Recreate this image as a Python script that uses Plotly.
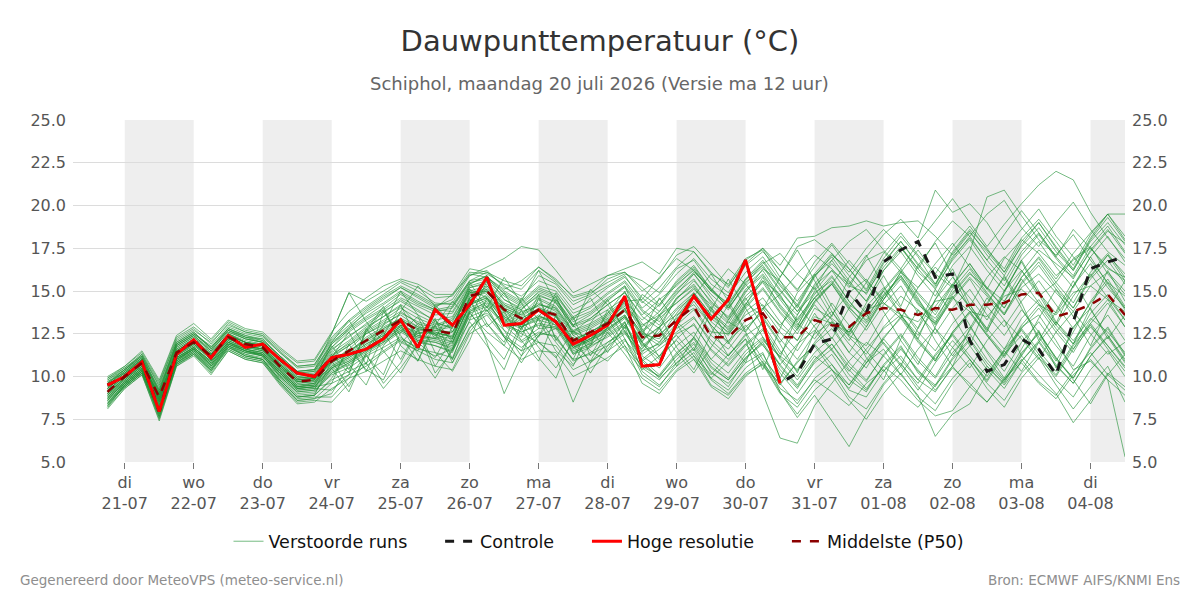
import plotly.graph_objects as go
import pandas as pd

# ---------------- data ----------------
start_time = "2026-07-20 18:00"
n_steps = 60  # 6-hourly

tick_dates = ["2026-07-21", "2026-07-22", "2026-07-23", "2026-07-24", "2026-07-25",
              "2026-07-26", "2026-07-27", "2026-07-28", "2026-07-29", "2026-07-30",
              "2026-07-31", "2026-08-01", "2026-08-02", "2026-08-03", "2026-08-04"]
tick_text = ["di<br>21-07", "wo<br>22-07", "do<br>23-07", "vr<br>24-07", "za<br>25-07",
             "zo<br>26-07", "ma<br>27-07", "di<br>28-07", "wo<br>29-07", "do<br>30-07",
             "vr<br>31-07", "za<br>01-08", "zo<br>02-08", "ma<br>03-08", "di<br>04-08"]
shaded_days = ["2026-07-21", "2026-07-23", "2026-07-25", "2026-07-27", "2026-07-29",
               "2026-07-31", "2026-08-02", "2026-08-04"]

hres = [9.5, 10.0, 10.85, 7.95, 11.3, 12.15, 11.1, 12.4, 11.7, 11.9, 11.0, 10.2, 10.0, 11.1, 11.3,
        11.6, 12.2, 13.3, 11.7, 13.9, 13.0, 14.2, 15.8, 13.0, 13.1, 13.9, 13.2, 11.9, 12.4, 13.0,
        14.7, 10.6, 10.7, 13.1, 14.7, 13.35, 14.5, 16.8, 13.2, 9.6]

control = [9.5, 10.0, 10.85, 7.95, 11.3, 12.15, 11.1, 12.4, 11.7, 11.9, 11.0, 10.2, 10.0, 11.1, 11.3,
           11.6, 12.2, 13.3, 11.7, 13.9, 13.0, 14.2, 15.8, 13.0, 13.1, 13.9, 13.2, 11.9, 12.4, 13.0,
           14.7, 10.6, 10.7, 13.1, 14.7, 13.35, 14.5, 16.8, 13.2, 9.6,
           10.2, 11.9, 12.2, 15.0, 13.7, 16.7, 17.4, 17.9, 15.8, 16.0,
           12.1, 10.3, 10.7, 12.2, 11.6, 10.1, 13.2, 16.3, 16.7, 17.0]

median = [9.1, 10.0, 10.8, 8.8, 11.4, 12.0, 11.2, 12.3, 11.9, 11.7, 10.6, 9.7, 9.8, 10.9, 11.5,
          12.1, 12.7, 13.3, 12.7, 12.7, 12.5, 14.7, 15.0, 13.9, 13.4, 13.9, 13.6, 12.1, 12.6, 13.1,
          13.9, 12.3, 12.4, 13.3, 14.1, 12.3, 12.3, 13.3, 13.7, 12.3, 12.3, 13.3, 13.0, 12.9, 13.7,
          14.0, 13.9, 13.6, 14.0, 13.9, 14.2, 14.2, 14.3, 14.8, 14.9, 13.5, 13.8, 14.2, 14.8, 13.6]

ens = [
 [9.3,10.1,10.9,8.5,11.6,12.2,11.0,12.5,12.0,11.8,10.4,9.4,9.6, 11.2,12.0,12.8,13.5,14.1,13.0,12.4,13.2,15.1,14.6,13.2,12.8,14.5,14.0,12.6,13.4,14.2,14.9, 13.5,12.8,14.6,15.3,13.9,12.7,14.2,15.8,14.1,12.9,15.0,16.2,15.4,16.8,17.3,16.1,15.2,16.6,17.8,16.4,15.1,16.9,18.0,17.2,15.9,16.8,17.5,16.3,15.8],
 [8.6,9.7,10.5,8.1,11.0,11.7,10.8,12.0,11.5,11.2,10.0,9.0,9.1, 10.2,10.8,11.4,12.0,12.7,12.1,11.8,11.4,13.8,14.4,13.0,12.1,12.8,12.9,11.4,11.8,12.3,13.0, 11.4,12.9,10.6,12.3,14.1,12.0,10.8,13.4,11.9,10.2,12.6,14.3,13.0,11.1,9.8,12.2,13.9,12.1,10.6,12.8,14.6,13.3,11.2,12.7,10.5,12.9,14.0,12.2,13.6],
 [9.8,10.4,11.3,9.4,12.0,12.6,11.6,12.8,12.4,12.1,11.2,10.3,10.4, 12.5,14.9,13.2,12.0,13.8,15.3,14.1,12.6,14.0,15.9,13.1,14.4,16.2,14.3,12.9,15.1,14.2,12.8, 14.8,14.1,15.4,16.2,15.0,14.3,15.7,16.5,15.1,13.8,14.9,15.6,14.2,13.5,14.8,15.9,14.4,13.1,14.6,15.8,14.7,13.6,15.2,16.0,14.9,13.8,15.3,16.1,15.0],
 [8.2,9.5,10.3,7.6,10.7,11.4,10.3,11.7,11.3,11.0,9.7,8.6,8.7, 9.6,10.1,10.6,11.4,12.1,11.5,11.0,10.8,12.9,13.6,12.3,11.5,12.0,11.8,10.4,10.9,11.5,12.2, 10.1,9.4,10.8,11.6,9.9,9.2,10.5,11.3,9.6,8.4,9.9,10.7,9.2,8.8,10.3,11.2,9.8,9.1,10.6,11.8,10.4,9.3,10.9,12.1,10.7,9.6,11.2,12.4,10.9],
 [9.0,9.9,10.7,9.0,11.3,11.9,11.3,12.2,11.8,11.6,10.7,9.9,10.0, 11.0,11.4,12.3,12.9,13.4,12.5,12.9,12.2,14.4,15.3,14.2,13.8,14.1,13.2,11.8,12.2,13.3,14.2, 13.0,13.6,14.3,15.1,14.2,13.2,12.6,14.0,14.8,13.1,12.2,13.6,14.9,15.7,14.3,13.4,15.2,16.4,15.3,14.1,15.8,17.0,16.2,14.7,15.5,16.9,17.6,16.0,14.8],
 [9.5,10.3,11.1,8.3,11.8,12.4,11.5,12.6,12.2,12.0,10.9,10.0,10.1, 11.5,12.4,13.0,13.7,14.5,13.9,13.2,12.8,15.4,15.9,14.5,13.9,15.0,14.6,13.0,13.6,14.4,15.3, 12.7,13.5,14.8,16.0,14.6,13.3,14.9,16.3,15.6,14.0,15.8,17.1,16.3,15.1,16.9,18.2,17.0,15.4,17.3,18.6,17.5,16.1,17.9,19.0,17.6,16.3,18.1,19.5,18.0],
 [8.4,9.6,10.4,7.8,10.9,11.6,10.6,11.9,11.4,11.3,10.1,9.2,9.3, 9.2,10.1,12.8,11.5,10.2,11.9,13.4,11.0,13.7,12.6,11.8,13.9,12.0,11.1,12.7,11.5,10.9,12.1, 11.0,11.8,12.6,13.4,12.1,11.2,12.4,13.1,11.5,10.3,11.9,12.8,11.4,10.5,12.2,13.5,12.1,10.9,12.6,13.8,12.5,11.3,13.0,14.2,12.8,11.6,13.3,14.5,12.9],
 [9.7,10.2,11.0,9.2,11.9,12.5,11.8,12.9,12.5,12.3,11.4,10.5,10.6, 12.1,13.0,13.9,14.6,15.2,14.7,14.1,14.5,16.0,15.8,15.1,15.6,16.4,15.7,14.6,14.9,15.5,16.0, 15.6,14.9,16.3,16.8,15.4,14.7,16.1,17.0,15.6,14.4,15.9,16.8,15.3,14.9,16.4,17.6,16.1,15.2,16.8,18.0,16.5,15.3,17.1,18.3,16.9,15.7,17.4,18.6,17.2],
 [8.9,9.8,10.6,8.7,11.2,11.8,11.1,12.1,11.7,11.5,10.5,9.6,9.7, 10.6,11.1,11.8,12.4,13.0,12.6,12.5,12.0,14.2,14.8,13.6,13.1,13.5,13.3,11.9,12.4,12.8,13.6, 12.0,10.7,13.3,14.8,12.9,11.2,12.5,10.4,12.8,14.9,16.0,14.1,12.4,13.7,11.9,10.6,12.8,15.1,13.6,11.8,14.2,15.9,14.3,12.1,13.8,15.6,13.9,12.4,11.0],
 [9.2,10.0,10.8,8.9,11.5,12.1,11.2,12.4,12.0,11.7,10.6,9.8,9.9, 10.9,11.6,12.5,13.1,13.6,12.9,12.7,12.9,14.9,15.1,14.0,13.6,14.2,13.9,12.5,12.9,13.5,14.3, 12.6,12.0,13.1,14.4,13.0,12.0,13.8,14.6,13.2,12.1,14.0,13.4,12.6,14.1,15.2,14.0,12.8,14.5,15.8,14.6,13.3,15.0,16.2,14.9,13.7,15.3,16.6,15.2,14.0],
 [8.5,9.4,10.2,7.7,10.8,11.5,10.5,11.8,11.3,11.1,9.9,8.9,9.0, 10.5,9.1,11.4,12.6,11.0,12.8,10.6,12.2,14.5,12.9,13.8,12.1,10.9,13.6,11.3,12.0,13.4,11.8, 10.6,10.0,11.2,12.0,10.5,9.8,11.1,11.9,10.2,9.0,10.4,11.3,9.8,9.1,10.7,11.8,10.2,9.4,11.0,12.1,10.6,9.6,11.3,12.6,11.0,9.9,11.6,12.8,11.2],
 [9.9,10.5,11.2,9.5,12.2,12.8,11.9,13.1,12.6,12.4,11.5,10.6,10.7, 12.3,13.3,14.1,14.8,15.5,15.0,14.3,14.2,15.6,16.1,15.3,14.5,15.9,15.4,14.2,14.7,15.3,15.9, 14.4,13.6,14.9,15.7,14.3,13.5,15.0,15.9,14.5,13.2,14.6,15.4,14.0,13.1,14.5,15.7,14.2,13.4,14.9,16.1,14.8,13.7,15.4,16.5,15.1,14.0,15.7,16.8,15.4],
 [8.1,9.3,10.1,7.5,10.6,11.2,10.1,11.5,11.0,10.8,9.5,8.4,8.5, 9.3,9.9,10.3,10.9,11.5,11.0,10.6,10.4,12.5,13.1,11.8,11.0,11.5,11.4,10.0,10.5,11.1,11.8, 9.6,9.0,10.3,11.0,9.4,8.7,10.0,10.8,9.1,7.8,9.2,10.1,8.6,7.5,9.0,10.2,8.8,8.0,9.6,10.8,9.3,8.2,9.9,11.1,9.5,8.1,9.4,10.6,8.5],
 [9.4,10.2,11.0,8.6,11.7,12.3,11.4,12.5,12.1,11.9,10.8,9.9,10.0, 11.3,11.9,12.7,13.3,14.0,13.4,13.0,13.4,15.2,15.4,14.3,13.9,14.8,14.3,12.9,13.3,13.9,14.6, 13.1,12.3,13.7,14.9,13.6,12.5,14.1,15.2,13.8,12.7,14.4,15.5,14.1,12.9,14.7,15.9,14.5,13.2,15.1,16.3,14.9,13.6,15.5,16.7,15.3,14.0,15.9,17.1,15.6],
 [8.7,9.6,10.4,8.4,11.1,11.7,10.9,12.0,11.6,11.4,10.3,9.4,9.5, 11.1,12.6,10.7,13.8,12.4,10.9,13.0,14.4,13.3,15.6,14.0,12.7,14.8,12.1,13.5,11.2,12.9,14.0, 11.7,12.5,13.2,12.3,11.0,12.1,13.0,11.8,10.7,11.9,12.7,11.5,10.3,11.6,12.8,13.6,12.2,11.0,12.5,13.7,12.4,11.1,12.8,14.0,12.6,11.4,13.1,14.3,12.9],
 [9.6,10.4,11.2,9.1,11.9,12.5,11.7,12.7,12.3,12.2,11.1,10.2,10.3, 11.9,12.7,13.4,14.0,14.8,14.2,13.8,14.0,15.5,15.7,14.9,14.3,15.2,14.8,13.5,14.0,14.8,15.5, 14.0,14.8,16.0,16.9,15.7,14.9,16.5,17.3,16.2,15.0,16.7,17.8,16.6,15.5,17.2,18.4,17.1,16.0,17.6,18.8,17.4,16.3,18.1,19.2,17.9,16.5,18.3,19.5,18.2],
 [8.3,9.5,10.3,7.9,10.8,11.5,10.4,11.8,11.2,11.0,9.8,8.8,8.9, 9.8,10.3,10.8,11.5,12.2,11.7,11.2,11.6,13.5,13.9,12.4,11.7,12.5,12.4,10.9,11.4,12.0,12.6, 10.9,11.6,12.4,11.2,10.1,11.3,12.2,10.8,9.5,10.9,11.8,10.4,9.3,10.8,12.0,10.7,9.6,11.2,12.4,11.0,9.8,11.5,12.7,11.3,10.1,11.8,13.0,11.6,10.3],
 [9.1,10.0,10.9,8.8,11.4,12.0,11.2,12.3,11.9,11.6,10.6,9.7,9.8, 10.8,11.3,12.0,12.6,13.2,12.8,12.6,12.3,14.6,14.9,13.8,13.3,13.8,13.5,12.0,12.5,13.0,13.8, 12.4,14.6,13.1,11.5,13.9,15.7,14.0,12.3,11.1,13.6,15.2,13.5,15.8,17.1,15.3,13.6,12.2,14.5,16.3,14.2,12.6,14.9,16.8,15.0,13.2,11.9,14.1,16.2,14.4],
 [8.8,9.7,10.5,8.2,11.0,11.6,10.7,11.9,11.5,11.3,10.2,9.3,9.4, 9.6,11.9,10.3,12.4,14.2,12.0,11.1,12.9,15.0,13.1,12.0,14.6,13.3,11.5,10.6,12.8,11.4,13.0, 11.2,10.5,11.8,12.6,11.0,10.2,11.5,12.3,10.6,9.4,10.8,11.6,10.1,9.2,10.6,11.7,10.3,9.5,11.1,12.2,10.8,9.7,11.4,12.5,11.1,9.9,11.7,12.9,11.3],
 [10.0,10.6,11.4,9.7,12.3,12.9,12.1,13.2,12.7,12.5,11.6,10.8,10.9, 12.5,14.9,14.4,15.0,15.6,15.2,14.6,14.7,16.1,16.0,15.4,15.1,16.2,15.5,14.4,14.8,15.7,16.1, 15.2,14.2,15.6,16.5,15.1,14.0,15.3,16.2,14.7,13.3,14.8,15.9,14.4,13.2,14.7,15.8,14.3,13.0,14.5,15.7,14.1,12.9,14.4,15.6,14.2,12.8,14.3,15.5,14.0],
 [9.3,10.1,10.8,8.7,11.5,12.1,11.3,12.4,12.0,11.8,10.7,9.8,9.9, 11.1,11.8,12.6,13.2,13.8,13.1,12.8,13.0,14.8,15.2,14.1,13.7,14.3,13.8,12.4,12.8,13.4,14.1, 12.9,13.8,15.0,16.1,15.2,14.0,15.4,16.6,17.2,16.0,15.1,16.8,17.9,18.6,17.4,16.3,17.8,19.1,20.4,19.0,17.6,18.9,20.1,21.2,22.0,21.5,19.6,18.1,16.9],
 [8.6,9.5,10.3,8.0,10.9,11.6,10.6,11.8,11.4,11.2,10.0,9.1,9.2, 10.1,10.5,11.2,11.7,12.3,11.6,11.4,11.1,13.3,13.7,12.7,12.0,12.6,12.3,11.0,11.3,11.8,12.5, 11.3,12.0,13.5,14.8,13.4,12.6,14.2,15.6,14.8,16.0,17.1,16.3,15.2,17.0,18.3,19.2,18.1,20.9,19.6,20.1,19.0,17.4,18.6,19.8,18.2,17.0,15.8,17.1,16.0],
 [9.0,9.8,10.6,8.6,11.2,11.8,11.0,12.1,11.7,11.5,10.4,9.5,9.6, 10.7,11.2,11.9,12.5,13.1,12.4,12.2,12.6,14.3,14.7,13.5,13.0,13.6,13.0,11.7,12.1,12.7,13.5, 12.0,11.2,12.5,13.0,11.6,10.7,11.9,12.8,11.0,9.8,11.2,10.4,9.5,10.8,11.6,10.1,8.9,6.5,7.8,8.4,10.2,11.5,10.3,12.0,13.2,12.1,13.4,12.6,11.4],
 [8.4,9.4,10.2,7.8,10.8,11.4,10.4,11.7,11.2,11.0,9.8,8.8,8.9, 10.9,9.4,11.2,10.1,12.6,13.5,11.4,10.3,12.1,14.6,12.7,11.2,13.5,14.7,12.4,11.8,13.9,12.2, 10.5,9.8,11.0,11.9,10.2,9.6,10.8,11.4,9.1,7.6,8.9,7.4,5.9,7.8,9.5,10.6,9.2,10.8,12.1,11.0,9.7,11.3,12.4,11.1,10.0,11.6,12.9,11.8,10.5],
 [8.9,9.7,10.5,8.5,11.1,11.7,10.8,12.0,11.6,11.3,10.2,9.3,9.4, 10.5,10.9,11.5,12.1,12.8,12.2,12.0,11.7,13.9,14.3,13.1,12.6,13.0,12.8,11.3,11.7,12.4,13.1, 11.5,11.9,12.8,13.5,11.9,11.0,12.2,9.0,6.4,6.1,8.3,9.6,10.9,12.0,11.2,10.1,11.6,12.8,11.7,10.5,12.1,13.3,12.2,11.0,12.6,13.8,12.5,11.3,12.0],
 [9.2,10.0,10.7,8.9,11.4,12.0,11.3,12.3,11.8,11.6,10.5,9.6,9.7, 10.9,11.5,12.2,12.8,13.4,12.9,12.4,12.2,14.5,15.0,13.9,13.4,14.0,13.7,12.2,12.6,13.2,13.9, 12.5,11.8,13.0,13.9,12.4,11.6,12.9,13.7,12.2,11.0,12.5,13.2,11.9,10.8,12.3,13.4,12.0,10.9,12.6,13.8,12.4,11.2,12.9,13.6,12.1,10.4,10.9,9.8,5.3],
 [9.6,10.3,11.1,9.0,11.8,12.4,11.6,12.7,12.3,12.0,11.0,10.1,10.2, 11.7,12.6,13.3,13.9,14.6,14.1,13.6,13.7,15.3,15.6,14.7,14.1,14.9,14.5,13.2,13.7,14.5,15.2, 13.8,13.0,14.5,15.6,14.4,13.4,15.1,16.0,14.6,13.6,15.4,16.6,15.5,14.4,16.2,17.5,16.3,15.1,16.9,18.2,19.5,20.3,18.7,17.6,19.0,20.2,18.6,17.3,16.5],
 [8.8,9.6,10.4,8.3,11.0,11.6,10.8,12.0,11.5,11.3,10.2,9.3,9.4, 10.4,10.9,11.6,12.2,12.8,12.3,12.1,11.8,14.0,14.5,13.3,12.9,13.3,13.0,11.6,12.1,12.6,13.4, 11.8,12.6,13.9,14.7,13.2,12.4,14.0,15.1,13.7,12.5,14.3,15.4,16.8,15.6,14.5,16.1,17.4,16.0,15.2,17.3,20.5,20.9,19.4,18.0,17.1,18.3,16.8,15.5,14.7],
 [8.5,9.5,10.3,7.7,10.7,11.3,10.4,11.6,11.1,10.9,9.7,8.7,8.8, 8.8,9.9,11.3,9.6,10.8,12.7,10.2,11.5,13.2,11.8,10.4,12.9,11.1,9.9,12.3,10.8,11.6,12.9, 10.3,9.5,10.6,11.4,9.8,9.0,10.2,10.9,9.3,8.6,9.8,9.1,8.3,9.6,10.4,9.0,8.2,9.5,10.6,9.4,8.5,9.9,10.8,9.6,8.7,10.1,11.0,9.8,8.9],
 [9.4,10.2,10.9,8.8,11.6,12.2,11.3,12.5,12.0,11.9,10.8,9.9,10.0, 11.4,12.1,12.9,13.5,14.2,13.6,13.1,12.9,15.0,15.3,14.2,13.6,14.6,14.1,12.7,13.1,13.7,14.5, 12.8,11.1,12.9,14.7,16.0,14.4,12.7,13.9,15.8,17.4,15.6,13.8,12.5,14.3,15.9,14.1,16.5,17.8,15.9,14.0,12.8,15.0,16.7,14.8,13.1,15.3,17.0,15.4,13.9],
 [9.5,10.3,11.0,9.1,11.8,12.4,11.5,12.7,12.2,12.0,11.1,10.2,10.3, 11.7,12.8,13.8,14.5,15.2,14.6,14.0,14.8,15.9,16.4,16.9,17.6,17.4,16.2,14.9,15.4,15.9,16.1, 15.0,15.7,17.1,17.6,16.5,15.3,16.6,17.5,16.2,15.1,16.4,17.7,16.3,15.0,16.7,17.9,16.6,15.4,17.0,18.1,16.8,15.6,17.3,18.4,17.0,15.9,17.6,18.8,17.3],
 [9.0,9.9,10.6,8.5,11.2,11.9,11.0,12.2,11.8,11.5,10.4,9.5,9.6, 10.6,11.2,11.9,12.4,13.0,12.5,12.6,12.3,14.6,12.0,9.0,11.2,12.4,12.8,12.6,12.2,13.0,13.6, 12.1,12.9,13.6,14.2,13.0,11.9,13.3,14.0,12.6,11.5,13.0,13.8,12.3,11.3,12.9,14.0,12.6,11.5,13.1,14.2,12.8,11.6,13.4,14.5,13.0,11.9,13.7,14.8,13.3],
 [8.7,9.6,10.4,8.2,11.0,11.6,10.7,11.9,11.5,11.2,10.1,9.2,9.3, 10.2,10.7,11.3,11.9,12.6,12.0,11.8,11.5,13.7,14.1,13.0,12.5,12.0,11.2,8.5,10.8,12.0,12.7, 11.0,10.1,11.4,12.2,10.6,9.8,11.1,12.0,10.4,9.3,10.9,11.9,10.6,9.7,11.3,12.5,11.1,10.0,11.7,12.9,11.5,10.3,12.0,13.2,11.8,10.6,12.4,13.6,12.1],
 [9.3,10.1,10.9,8.9,11.5,12.1,11.4,12.4,12.0,11.8,10.7,9.8,9.9, 11.2,11.8,12.5,13.0,13.7,13.2,12.9,13.3,14.9,15.0,14.0,13.5,14.2,14.0,12.6,13.0,13.6,14.4, 13.3,14.2,15.5,16.4,15.1,14.2,15.6,16.7,15.3,14.1,15.9,17.0,15.6,14.4,16.2,17.3,15.9,14.7,16.5,17.6,16.2,15.0,16.8,17.9,16.4,15.2,17.0,18.2,16.7],
 [8.6,9.5,10.3,8.1,10.9,11.5,10.6,11.8,11.4,11.2,10.0,9.1,9.2, 11.3,10.2,12.7,14.1,11.8,10.9,13.3,12.0,14.2,15.7,13.4,12.3,14.6,12.2,11.0,13.1,14.5,12.6, 11.6,12.8,11.4,10.2,11.7,13.3,14.6,12.9,11.3,12.8,14.2,13.0,11.4,12.9,14.5,16.1,14.6,12.8,11.2,12.7,14.3,15.8,14.0,12.3,10.9,12.6,14.4,15.7,14.1],
 [9.1,9.9,10.7,8.7,11.3,11.9,11.1,12.2,11.8,11.6,10.5,9.7,9.8, 10.8,11.4,12.1,12.8,13.3,12.8,12.5,12.4,14.6,15.1,13.7,13.2,13.9,13.6,12.1,12.6,13.2,14.0, 12.2,12.9,14.0,14.9,13.6,12.8,14.3,13.5,12.0,13.4,14.6,13.3,12.1,13.8,15.0,13.6,12.4,14.1,15.4,14.0,12.7,14.4,15.7,14.3,13.0,14.7,16.0,14.6,13.3],
 [8.9,9.8,10.6,8.4,11.1,11.7,10.9,12.1,11.6,11.4,10.3,9.4,9.5, 10.5,11.0,11.6,12.3,12.9,12.4,12.2,11.9,14.2,14.6,13.4,12.9,13.4,13.2,11.7,12.2,12.8,13.5, 11.9,11.0,12.2,13.1,11.5,10.6,11.8,12.7,11.1,10.0,11.4,12.3,10.8,9.8,11.2,12.4,10.9,9.9,11.4,12.5,11.0,9.8,11.2,10.1,9.0,7.3,8.6,10.2,9.4],
 [9.7,10.4,11.2,9.2,12.0,12.6,11.7,12.8,12.4,12.2,11.2,10.3,10.4, 11.9,12.9,13.7,14.3,15.0,14.4,13.9,14.1,15.6,15.8,15.0,14.4,15.3,15.0,13.7,14.1,14.9,15.6, 14.3,15.2,16.4,17.3,16.1,15.2,16.8,17.5,16.5,18.1,18.2,18.7,18.8,19.1,18.8,19.0,19.1,18.2,17.1,18.4,17.3,16.1,17.6,18.7,17.3,16.2,17.9,19.0,17.7],
 [8.3,9.4,10.2,7.6,10.7,11.3,10.3,11.6,11.1,10.9,9.6,8.6,8.7, 9.0,10.7,9.5,11.8,13.0,11.3,9.9,11.6,13.8,12.2,11.0,13.1,11.7,10.5,12.0,10.9,12.6,11.3, 9.9,9.2,10.4,11.2,9.5,8.9,10.1,10.7,9.0,8.2,9.6,10.4,8.8,8.1,9.6,10.8,9.4,8.4,9.9,11.0,9.6,8.6,10.2,11.3,9.8,8.8,10.4,11.5,10.0],
 [9.8,10.5,11.3,9.6,12.1,12.7,12.0,13.0,12.6,12.4,11.4,10.6,10.7, 12.2,13.2,14.0,14.7,15.3,14.8,14.2,14.3,15.9,16.2,15.2,14.7,15.6,15.2,13.9,14.4,15.2,15.8, 14.6,13.8,15.1,16.0,14.8,13.9,15.5,16.4,15.0,13.8,15.3,16.2,14.8,13.7,15.1,16.3,14.9,13.8,15.4,16.6,15.2,14.0,15.8,16.9,15.5,14.3,16.1,17.2,15.8],
 [9.2,10.0,10.8,8.6,11.4,12.0,11.2,12.3,11.9,11.7,10.6,9.7,9.8, 12.0,13.3,11.6,13.0,15.0,13.6,12.2,14.1,15.5,14.0,15.8,14.3,12.8,14.9,13.3,14.6,12.9,14.4, 14.5,15.8,16.9,16.2,15.0,16.3,15.4,14.1,13.0,14.2,12.9,11.6,12.8,11.5,10.3,11.6,10.4,9.2,10.5,9.6,8.5,9.8,11.0,9.7,8.9,10.3,11.4,10.1,9.2],
 [8.7,9.6,10.4,8.2,11.0,11.6,10.7,11.9,11.5,11.3,10.2,9.3,9.4, 10.3,10.8,11.5,12.0,12.7,12.1,12.0,11.6,13.8,14.2,13.1,12.6,13.1,12.9,11.5,11.9,12.5,13.2, 10.9,9.9,10.8,11.7,10.3,9.4,11.0,12.1,11.2,10.4,12.0,13.2,12.4,11.8,13.5,14.7,13.9,13.1,14.8,16.0,15.2,14.4,16.1,17.4,16.6,15.8,17.3,18.5,17.8],
 [9.0,9.9,10.7,8.8,11.3,11.9,11.1,12.2,11.8,11.6,10.6,9.7,9.8, 10.9,11.5,12.1,12.7,13.3,12.7,12.7,12.6,14.7,15.0,13.9,13.4,13.9,13.6,12.1,12.6,13.1,13.9, 12.5,12.2,13.4,14.0,12.6,12.5,13.6,14.2,12.9,12.1,13.5,13.1,12.6,13.9,14.3,13.6,13.2,14.4,14.6,13.8,13.5,14.7,15.1,14.2,13.6,14.9,15.3,14.5,13.8],
 [8.4,9.4,10.2,7.9,10.8,11.4,10.5,11.7,11.2,11.0,9.8,8.8,8.9, 9.9,11.6,10.4,9.8,11.9,13.1,12.5,11.0,12.8,14.1,12.3,10.8,12.4,13.5,11.9,10.2,11.8,13.2, 10.7,10.0,11.3,12.3,10.8,9.9,11.3,12.2,10.7,9.5,11.0,11.9,10.4,9.3,10.6,9.8,8.6,7.7,8.0,9.4,10.6,9.5,10.9,12.0,10.6,9.6,11.2,12.3,10.8],
 [9.5,10.2,11.0,9.0,11.7,12.3,11.5,12.6,12.2,12.0,10.9,10.0,10.1, 11.6,12.3,13.1,13.8,14.4,13.8,13.3,13.5,15.2,15.5,14.5,14.0,14.7,14.4,13.0,13.4,14.2,14.9, 13.6,14.5,15.3,16.3,15.0,14.1,15.7,16.8,15.4,14.2,16.0,17.2,15.9,14.8,16.6,17.9,16.5,15.3,17.2,18.5,17.1,15.9,17.7,19.0,17.5,16.2,18.0,19.3,17.9],
 [8.8,9.7,10.5,8.6,11.1,11.7,10.9,12.0,11.6,11.4,10.3,9.4,9.5, 10.5,11.1,11.7,12.3,12.9,12.3,12.3,12.0,14.2,14.6,13.5,12.9,13.5,13.2,11.7,12.2,12.7,13.5, 12.0,13.6,11.7,10.4,12.5,14.2,12.6,11.0,9.9,11.8,13.7,12.2,14.0,15.5,13.8,12.1,10.7,12.9,14.7,13.0,11.4,9.9,11.6,13.4,15.1,13.5,11.8,13.9,15.6],
 [9.3,10.1,10.9,8.7,11.5,12.1,11.3,12.4,12.0,11.8,10.7,9.8,9.9, 11.8,10.4,12.6,13.9,12.0,11.5,14.2,13.0,15.1,13.8,14.9,13.2,12.3,14.5,13.0,11.9,13.7,15.0, 12.6,13.4,14.3,15.2,13.8,12.9,14.5,15.5,14.0,12.8,14.4,15.4,13.9,12.7,14.2,15.3,13.7,12.5,14.0,15.1,13.6,12.4,13.9,12.6,11.1,9.8,8.4,10.1,11.3],
 [9.6,10.4,11.1,9.3,11.9,12.5,11.7,12.8,12.3,12.1,11.2,10.3,10.4, 12.0,12.8,13.5,14.2,14.9,14.3,13.9,13.8,15.4,15.9,14.8,14.2,15.1,14.7,13.4,13.8,14.6,15.3, 13.9,13.2,14.6,15.4,14.0,13.1,14.7,15.6,14.2,13.0,14.6,15.8,14.4,13.3,15.0,16.2,14.8,13.6,15.3,16.6,15.1,14.0,15.8,17.0,15.7,17.2,18.4,19.5,19.5],
 [8.2,9.3,10.1,7.4,10.6,11.3,10.2,11.5,11.0,10.8,9.6,8.5,8.6, 8.5,9.6,10.8,9.3,10.5,11.9,13.0,10.8,12.6,13.9,12.3,11.5,13.4,12.0,10.7,11.8,12.9,11.6, 10.4,11.2,12.1,11.0,9.9,10.9,11.9,10.6,9.6,10.8,11.9,10.7,9.5,11.0,12.2,11.0,9.8,11.3,12.5,11.2,10.0,11.6,12.8,11.5,10.3,11.9,13.1,11.8,10.6],
 [9.9,10.6,11.5,9.8,12.4,13.1,12.2,13.3,12.8,12.6,11.7,10.9,11.0, 12.6,13.8,14.6,15.3,15.7,15.4,14.8,14.8,16.3,16.1,15.6,15.3,16.4,15.6,14.7,15.0,15.9,16.3, 16.7,16.0,17.5,17.3,16.0,15.4,16.9,17.4,15.8,17.6,18.0,17.2,16.1,17.5,18.6,17.6,16.3,17.9,19.1,18.2,16.8,18.3,19.7,18.4,17.0,18.6,17.5,16.4,15.6],
]

# ---------------- figure ----------------
times = pd.date_range(start_time, periods=n_steps, freq="6h")
FONT = "DejaVu Sans"
NB = "\u00a0" * 5

fig = go.Figure()

for i, m in enumerate(ens):
    fig.add_trace(go.Scatter(
        x=times[:len(m)], y=m, mode="lines",
        line=dict(color="rgba(34,145,55,0.62)", width=1),
        name="Verstoorde runs" + NB, legendgroup="ens", showlegend=(i == 0),
        hoverinfo="skip"))

fig.add_trace(go.Scatter(x=times[:len(control)], y=control, mode="lines",
                         line=dict(color="#1a1a1a", width=3, dash="dash"),
                         name="Controle" + NB, hoverinfo="skip"))
fig.add_trace(go.Scatter(x=times[:len(hres)], y=hres, mode="lines",
                         line=dict(color="#ff0000", width=3),
                         name="Hoge resolutie" + NB, hoverinfo="skip"))
fig.add_trace(go.Scatter(x=times[:len(median)], y=median, mode="lines",
                         line=dict(color="#8b0000", width=2.5, dash="dash"),
                         name="Middelste (P50)", hoverinfo="skip"))
# carrier for right axis
fig.add_trace(go.Scatter(x=[times[0]], y=[None], yaxis="y2", showlegend=False,
                         hoverinfo="skip", mode="lines"))

x_start = pd.Timestamp("2026-07-20 06:00")
x_end = pd.Timestamp("2026-08-04 12:00")

shapes = []
for d in shaded_days:
    d0 = pd.Timestamp(d)
    d1 = min(d0 + pd.Timedelta(days=1), x_end)
    shapes.append(dict(type="rect", xref="x", yref="paper", x0=d0, x1=d1, y0=0, y1=1,
                       fillcolor="#eeeeee", line=dict(width=0), layer="below"))

ytick = [5.0, 7.5, 10.0, 12.5, 15.0, 17.5, 20.0, 22.5, 25.0]

fig.update_layout(
    width=1200, height=600,
    margin=dict(l=73, r=75, t=120, b=138),
    paper_bgcolor="white", plot_bgcolor="white",
    font=dict(family=FONT, color="#555555"),
    title=dict(text="Dauwpunttemperatuur (°C)", x=0.5, xanchor="center",
               y=1 - 41 / 600, yanchor="middle",
               font=dict(family=FONT, size=29, color="#333333")),
    shapes=shapes,
    xaxis=dict(range=[x_start, x_end], tickvals=[pd.Timestamp(t) for t in tick_dates],
               ticktext=tick_text, showgrid=False, zeroline=False, showline=False,
               ticks="outside", ticklen=6, tickwidth=1, tickcolor="#777777",
               tickfont=dict(family=FONT, size=16, color="#555555")),
    yaxis=dict(range=[5, 25], tickvals=ytick, tickformat=".1f", showgrid=True,
               gridcolor="#dcdcdc", gridwidth=1, zeroline=False, showline=False,
               ticks="", ticklabelstandoff=6,
               tickfont=dict(family=FONT, size=16, color="#555555")),
    yaxis2=dict(range=[5, 25], tickvals=ytick, tickformat=".1f", overlaying="y",
                side="right", showgrid=False, zeroline=False, showline=False, ticks="",
                ticklabelstandoff=6,
                tickfont=dict(family=FONT, size=16, color="#555555")),
    legend=dict(orientation="h", x=0.5, xanchor="center", y=-0.232, yanchor="middle",
                font=dict(family=FONT, size=17.5, color="#111111"),
                bgcolor="rgba(0,0,0,0)"),
    showlegend=True,
    hovermode=False,
    annotations=[
        dict(text="Schiphol, maandag 20 juli 2026 (Versie ma 12 uur)", xref="paper",
             yref="paper", x=0.5, y=(462 - 83) / 342, xanchor="center", yanchor="middle",
             showarrow=False, font=dict(family=FONT, size=18, color="#666666")),
        dict(text="Gegenereerd door MeteoVPS (meteo-service.nl)", xref="paper",
             yref="paper", x=(18 - 73) / 1052, y=-(580 - 462) / 342, xanchor="left",
             yanchor="middle", showarrow=False,
             font=dict(family=FONT, size=13.5, color="#8e8e8e")),
        dict(text="Bron: ECMWF AIFS/KNMI Ens", xref="paper", yref="paper",
             x=(1182 - 73) / 1052, y=-(580 - 462) / 342, xanchor="right",
             yanchor="middle", showarrow=False,
             font=dict(family=FONT, size=13.5, color="#8e8e8e")),
    ],
)

fig.write_html("out.html")
